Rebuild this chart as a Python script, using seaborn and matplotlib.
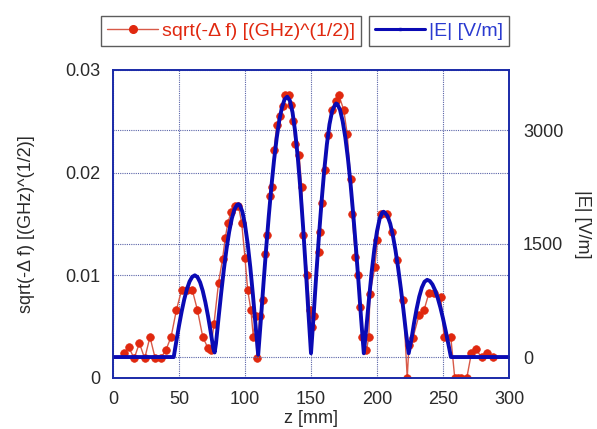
import matplotlib
matplotlib.use("Agg")
import matplotlib.pyplot as plt
import seaborn as sns
from matplotlib.lines import Line2D

# =========================
# DADOS
# =========================
z_df = [8, 12, 16, 20, 24, 28, 32, 36, 40, 44, 48, 52, 56, 60, 64, 68, 72, 74,
        76.5, 80, 83, 85, 87, 89.5, 92.5, 95, 97.5, 100, 102, 104.5, 106.3, 108, 109,
        111, 113.4, 115.2, 116.5, 119, 120.4, 122, 124, 126.5, 128.7, 130.6, 133,
        134.5, 136.5, 138, 141, 143, 144.3, 147.3, 148.9, 150.5, 152, 155.8, 156.6,
        158.4, 160.4, 163, 166, 169, 171, 174.8, 177.4, 180, 181, 183.7, 185.5, 187,
        188.8, 192, 193.8, 194.6, 198.4, 200.2, 202.7, 207.7, 211.5, 215.3, 219.8,
        222.9, 224.2, 227.2, 231.8, 235.6, 239.4, 243.2, 248.3, 250.8, 255.9, 258.9,
        261.5, 264, 268, 271.5, 274.8, 279.4, 283.7, 287.5]
sqrt_df = [0.0024, 0.0030, 0.0019, 0.0034, 0.0019, 0.0040, 0.0019, 0.0019, 0.0027,
           0.0040, 0.0066, 0.0086, 0.0086, 0.0086, 0.0066, 0.0040, 0.0029, 0.0027,
           0.0053, 0.0093, 0.0116, 0.0136, 0.0151, 0.0162, 0.0168, 0.0168, 0.0151,
           0.0117, 0.0086, 0.0066, 0.0040, 0.0060, 0.0019, 0.0060, 0.0076, 0.0121,
           0.0139, 0.0177, 0.0186, 0.0222, 0.0246, 0.0255, 0.0265, 0.0276, 0.0276,
           0.0266, 0.0250, 0.0228, 0.0217, 0.0186, 0.0139, 0.0100, 0.0066, 0.0050,
           0.0060, 0.0123, 0.0142, 0.0170, 0.0203, 0.0237, 0.0261, 0.0270, 0.0276,
           0.0261, 0.0238, 0.0194, 0.0160, 0.0118, 0.0100, 0.0069, 0.0040, 0.0027,
           0.0040, 0.0082, 0.0108, 0.0134, 0.0160, 0.0160, 0.0142, 0.0115, 0.0076,
           0.0000, 0.0032, 0.0039, 0.0061, 0.0066, 0.0083, 0.0083, 0.0079, 0.0040,
           0.0040, 0.0000, 0.0000, 0.0000, 0.0000, 0.0024, 0.0028, 0.0020, 0.0024,
           0.0020]

z_e = [0, 46, 48, 50, 52, 54, 56, 58, 60, 62, 64, 66, 68, 70, 72, 74, 76, 77,
       78, 80, 82, 84, 86, 88, 90, 92, 94, 95, 96, 98, 100, 102, 104, 106, 108, 110,
       112, 114, 116, 118, 120, 122, 124, 126, 128, 130, 132,
       134, 136, 138, 140, 142, 144, 146, 148, 150,
       152, 154, 156, 158, 160, 162, 164, 166, 168, 169,
       170, 172, 174, 176, 178, 180, 182, 184, 186, 188, 190,
       192, 194, 196, 198, 200, 202, 204, 205,
       206, 208, 210, 212, 214, 216, 218, 220, 222, 224,
       226, 228, 230, 232, 234, 236, 238,
       240, 242, 244, 246, 248, 250, 252, 254, 256, 300]
e_abs = [0, 0, 211, 413, 600, 764, 897, 998, 1059, 1080, 1056, 987, 874, 722, 540, 334, 113, 60,
         176, 523, 854, 1160, 1428, 1654, 1830, 1951, 2012, 2020, 2010, 1921, 1749, 1501, 1188, 822, 420, 30,
         489, 970, 1428, 1861, 2253, 2601, 2893, 3130, 3299, 3406, 3440,
         3388, 3234, 2979, 2635, 2212, 1720, 1176, 599, 50,
         553, 1092, 1595, 2054, 2462, 2807, 3075, 3250, 3327, 3350,
         3341, 3266, 3116, 2901, 2620, 2281, 1886, 1454, 988, 499, 50,
         399, 781, 1129, 1427, 1663, 1826, 1910, 1920,
         1907, 1862, 1763, 1609, 1411, 1177, 914, 626, 317, 50,
         227, 443, 635, 798, 919, 995, 1020,
         1005, 959, 883, 781, 656, 510, 349, 177, 0, 0]

x_ticks = [0, 50, 100, 150, 200, 250, 300]
left_ticks = [0, 0.01, 0.02, 0.03]
left_labels = ["0", "0.01", "0.02", "0.03"]
right_ticks = [0, 1500, 3000]

# =========================
# CONFIG
# =========================
sns.set_style("white")
plt.rcParams["font.family"] = ["Liberation Sans", "DejaVu Sans"]

RED = "#e0280f"
RED_LINE = "#d85a48"
BLUE = "#0a0ab4"
GRID = "#5a64a8"
TXT = "#2a2a2a"
FS = 13

fig = plt.figure(figsize=(5.97, 4.29), dpi=100)
ax = fig.add_axes([113 / 597, 1 - 378 / 429, 396 / 597, 308 / 429])
ax2 = ax.twinx()

sns.lineplot(x=z_df, y=sqrt_df, ax=ax, color=RED_LINE, linewidth=1.0,
             marker="o", markersize=5.5, markerfacecolor=RED,
             markeredgecolor=RED, markeredgewidth=0.5, legend=False,
             estimator=None, sort=False)

sns.lineplot(x=z_e, y=e_abs, ax=ax2, color=BLUE, linewidth=2.8,
             marker="s", markersize=2, markeredgewidth=0,
             legend=False, estimator=None, sort=False)

ax.set_xlim(0, 300)
ax.set_ylim(0, 0.03)
ax2.set_ylim(-277, 3793)

ax.set_xticks(x_ticks)
ax.set_yticks(left_ticks)
ax.set_yticklabels(left_labels)
ax2.set_yticks(right_ticks)

ax.tick_params(axis="y", length=0, labelsize=FS, labelcolor=TXT, pad=9)
ax.tick_params(axis="x", length=0, labelsize=FS, labelcolor=TXT, pad=9)
ax2.tick_params(axis="y", length=0, labelsize=FS, labelcolor=TXT, pad=10)

for a, axis in ((ax, "both"), (ax2, "y")):
    a.grid(True, axis=axis, color=GRID, linestyle=(0, (1, 1)), linewidth=0.8)
    a.set_axisbelow(True)

for a in (ax, ax2):
    for s in a.spines.values():
        s.set_color("#1a2aa8")
        s.set_linewidth(1.2)

ax.set_xlabel("z [mm]", fontsize=FS, color=TXT, labelpad=2)
ax.set_ylabel("sqrt(-Δ f) [(GHz)^(1/2)]", fontsize=FS, color=TXT, labelpad=22)
ax2.set_ylabel("|E| [V/m]", fontsize=FS, color=TXT, rotation=270, labelpad=20)

# =========================
# LEGENDAS
# =========================
h_red = Line2D([], [], color=RED_LINE, linewidth=1.0, marker="o",
               markersize=5.5, markerfacecolor=RED, markeredgecolor=RED)
h_blue = Line2D([], [], color=BLUE, linewidth=2.2, marker="s", markersize=2)

LFS = 14
leg1 = fig.legend([h_red], ["sqrt(-Δ f) [(GHz)^(1/2)]"], loc="center",
                  bbox_to_anchor=(231 / 597, 1 - 31 / 429), fontsize=LFS,
                  frameon=True, fancybox=False, handlelength=2.6,
                  handletextpad=0.2, borderpad=0.3, labelcolor=[RED])
leg1.get_frame().set_edgecolor("#333333")
leg1.get_frame().set_linewidth(1.0)

leg2 = fig.legend([h_blue], ["|E| [V/m]"], loc="center",
                  bbox_to_anchor=(439 / 597, 1 - 31 / 429), fontsize=LFS,
                  frameon=True, fancybox=False, handlelength=2.6,
                  handletextpad=0.2, borderpad=0.3, labelcolor=["#2a3ad0"])
leg2.get_frame().set_edgecolor("#333333")
leg2.get_frame().set_linewidth(1.0)

plt.savefig("out.png", dpi=100)
